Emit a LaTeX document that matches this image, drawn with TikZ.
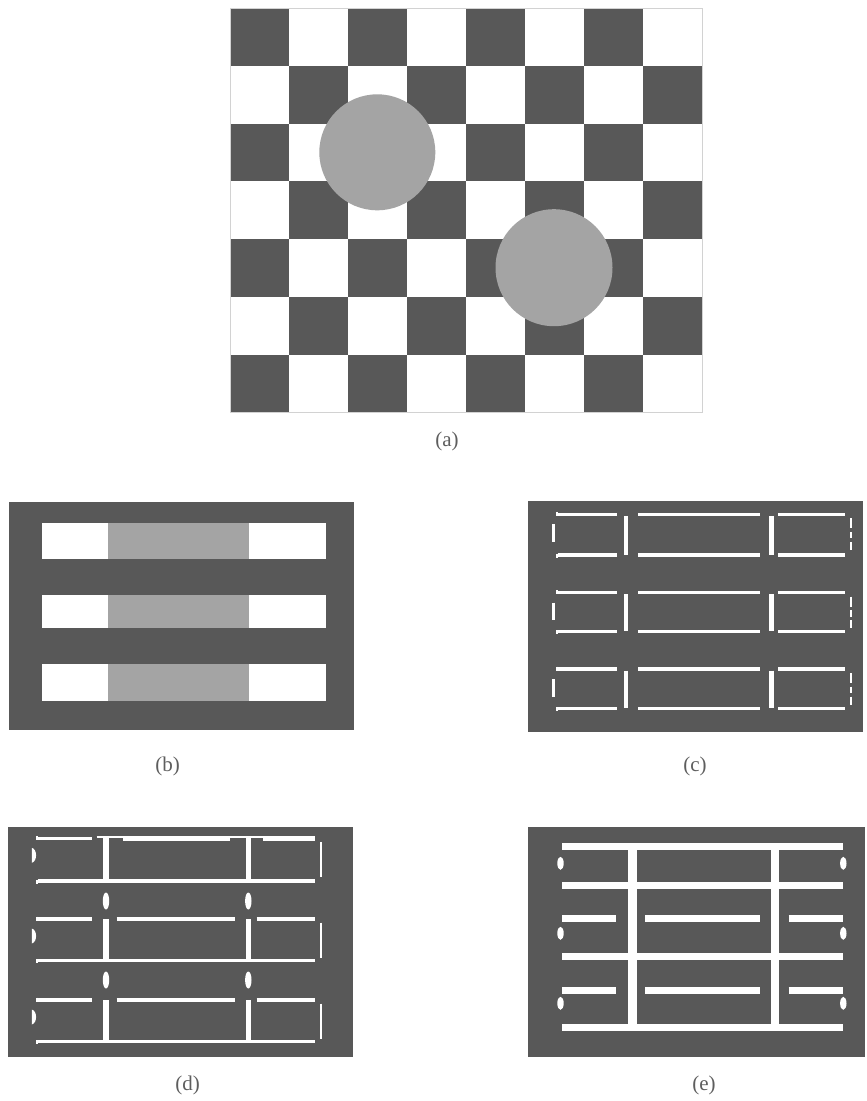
\documentclass[tikz,border=0pt]{standalone}
\usepackage{fontspec}
\setmainfont{Liberation Serif}
\definecolor{dk}{HTML}{585858}
\definecolor{md}{HTML}{A4A4A4}
\definecolor{lbl}{HTML}{5E5E5E}
\tikzset{
  panel/.style={fill=dk},
  wl/.style={draw=white,line width=3.4pt},
  wv/.style={draw=white,line width=4.6pt},
  wthick/.style={draw=white,line width=7pt},
  wthickv/.style={draw=white,line width=8.5pt},
  caption/.style={text=lbl,font=\fontsize{21}{24}\selectfont,inner sep=0pt}
}
\begin{document}
\begin{tikzpicture}[x=1pt,y=-1pt]
\useasboundingbox (0,0) rectangle (867,1101);
\fill[white] (0,0) rectangle (867,1101);

% ---------- (a) checkerboard ----------
\foreach \r in {0,...,6}{
  \foreach \c in {0,...,7}{
    \pgfmathtruncatemacro{\myparity}{mod(\r+\c,2)}
    \ifnum\myparity=0
      \fill[dk] ({230+59*\c},{8.3+57.714*\r}) rectangle ({230+59*(\c+1)},{8.3+57.714*(\r+1)});
    \fi
  }
}
\draw[gray!35,line width=0.7pt] (230,8.3) rectangle (702,412.3);
\fill[md] (377.3,152.3) circle (58);
\fill[md] (554,267.7) circle (58.5);
\node[caption] (la) at (447,441) {(a)};

% ---------- (b) ----------
\fill[panel] (9.3,501.7) rectangle (354,730);
\foreach \t/\b in {523.3/559.3, 595/628.3, 664.3/700.7}{
  \fill[white] (41.7,\t) rectangle (326,\b);
  \fill[md] (108.3,\t) rectangle (249.3,\b);
}
\node[caption] (lb) at (167.5,766) {(b)};

% ---------- (c) ----------
\fill[panel] (528.3,501) rectangle (863,731.7);
\foreach \t/\b in {514.3/555, 592.7/631.7, 669/708.3}{
  \draw[wl] (558,\t) -- (616.7,\t);
  \draw[wl] (638.3,\t) -- (760,\t);
  \draw[wl] (778.3,\t) -- (845,\t);
  \draw[wl] (558,\b) -- (616.7,\b);
  \draw[wl] (638.3,\b) -- (760,\b);
  \draw[wl] (778.3,\b) -- (845,\b);
  \draw[white,line width=2pt] (557,\t-2.5) -- (557,\t+1.5);
  \draw[white,line width=2pt] (557,\b-1.5) -- (557,\b+2.5);
  \draw[wv] (626,\t+1.5) -- (626,\b-0.5);
  \draw[wv] (771.7,\t+1.5) -- (771.7,\b-0.5);
  \draw[white,line width=2.6pt] (553.3,\t+10) -- (553.3,\t+27.5);
  \draw[white,line width=2.2pt] (851,\t+4) -- (851,\t+14);
  \draw[white,line width=2.2pt] (851,\t+17.5) -- (851,\t+24);
  \draw[white,line width=2.2pt] (851,\t+27.5) -- (851,\t+35.5);
}
\node[caption] (lc) at (695,766) {(c)};

% ---------- (d) ----------
\fill[panel] (8.3,827.3) rectangle (353.3,1057.3);
% row 1 top line
\draw[wl] (38,838.3) -- (91.7,838.3);
\draw[white,line width=2.2pt] (96.7,837) -- (315,837);
\draw[wl] (123,839.5) -- (230,839.5);
\draw[wl] (263,839.5) -- (315,839.5);
% rows 2,3 top lines
\foreach \t in {919,1000}{
  \draw[wl] (38,\t) -- (91.7,\t);
  \draw[wl] (116.7,\t) -- (235,\t);
  \draw[wl] (256.7,\t) -- (315,\t);
}
% bottom lines, verticals, side marks
\foreach \t/\b in {838.3/881, 919/960.7, 1000/1041.7}{
  \draw[wl] (38,\b) -- (315,\b);
  \draw[white,line width=2pt] (37,\t-2.5) -- (37,\t+1.5);
  \draw[white,line width=2pt] (37,\b-1.5) -- (37,\b+2.5);
  \draw[white,line width=5.5pt] (106,\t) -- (106,\b);
  \draw[white,line width=5.5pt] (248.3,\t) -- (248.3,\b);
  \fill[white] (31.8,\t+9.5) .. controls (37.5,\t+11) and (37.5,\t+23) .. (31.8,\t+24.5) -- cycle;
  \draw[white,line width=2.2pt] (320.7,\t+3.5) -- (320.7,\t+38.5);
}
\foreach \m in {901,980}{
  \fill[white] (106,\m) ellipse (3.2 and 8.5);
  \fill[white] (248.3,\m) ellipse (3.2 and 8.5);
}
\node[caption] (ld) at (187.5,1085) {(d)};

% ---------- (e) ----------
\fill[panel] (528.3,827.3) rectangle (865,1056.7);
\foreach \y in {846.7, 885, 956, 1027.3}{
  \draw[wthick] (562,\y) -- (843,\y);
}
\foreach \y in {918.3, 990}{
  \draw[wthick] (562,\y) -- (616.3,\y);
  \draw[wthick] (645.3,\y) -- (759.7,\y);
  \draw[wthick] (788.7,\y) -- (843,\y);
}
\draw[wthickv] (632.7,846.7) -- (632.7,1027.3);
\draw[wthickv] (775,846.7) -- (775,1027.3);
\foreach \y in {863.3, 933.3, 1003.3}{
  \fill[white] (560.5,\y) ellipse (3.2 and 6.5);
  \fill[white] (843.3,\y) ellipse (3.2 and 6.5);
}
\node[caption] (le) at (704,1085) {(e)};
\end{tikzpicture}
\end{document}
